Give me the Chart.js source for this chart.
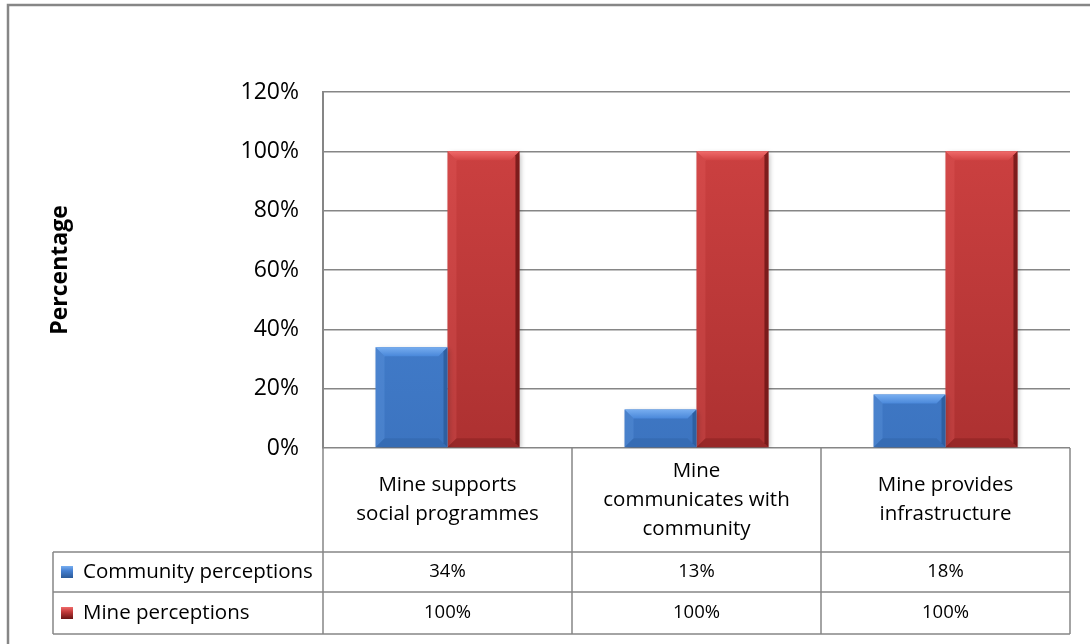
<!DOCTYPE html>
<html>
<head>
<meta charset="utf-8">
<script src="https://cdn.jsdelivr.net/npm/chart.js@4.4.1/dist/chart.umd.min.js"></script>
<style>
  html, body { margin: 0; padding: 0; background: #fff; }
  #wrap { position: relative; width: 1090px; height: 644px; }
</style>
</head>
<body>
<div id="wrap"><canvas id="chart"></canvas></div>
<script>
// data
const categories = [
    ['Mine supports', 'social programmes'],
    ['Mine', 'communicates with', 'community'],
    ['Mine provides', 'infrastructure']
];
const seriesNames = ['Community perceptions', 'Mine perceptions'];
const communityValues = [0.34, 0.13, 0.18];
const mineValues = [1.00, 1.00, 1.00];
const yTicks = [0, 0.2, 0.4, 0.6, 0.8, 1.0, 1.2];

const FONT = "'Open Sans', 'DejaVu Sans', sans-serif";
const LINE = '#868686';

// fill, light edge, dark edge per series
const palette = [
    { base: '#4580d2', top: '#4a88da', bottom: '#3c74c0', light: '#78aef0', dark: '#2b5a98' },
    { base: '#c23a3a', top: '#d14343', bottom: '#ad3131', light: '#f06a6a', dark: '#6a1414' }
];

const pct = v => Math.round(v * 100) + '%';

function barFill(idx) {
    return (ctx) => {
        const { chart } = ctx;
        const area = chart.chartArea;
        if (!area) return palette[idx].base;
        const g = chart.ctx.createLinearGradient(0, area.top, 0, area.bottom);
        g.addColorStop(0, palette[idx].top);
        g.addColorStop(1, palette[idx].bottom);
        return g;
    };
}

// soft shadow under the bars
const barShadow = {
    id: 'barShadow',
    beforeDatasetsDraw(chart) {
        const c = chart.ctx;
        c.save();
        c.shadowColor = 'rgba(0,0,0,0.28)';
        c.shadowBlur = 5;
        c.shadowOffsetX = 2;
        c.shadowOffsetY = 2;
    },
    afterDatasetsDraw(chart) {
        chart.ctx.restore();
    }
};

// bevelled edges on each bar
const barBevel = {
    id: 'barBevel',
    afterDatasetsDraw(chart) {
        const c = chart.ctx;
        chart.data.datasets.forEach((ds, di) => {
            const p = palette[di];
            chart.getDatasetMeta(di).data.forEach(bar => {
                const { x, y, base, width } = bar.getProps(['x', 'y', 'base', 'width'], true);
                const l = x - width / 2, r = x + width / 2, t = y, b = base;
                const e = Math.min(9, (b - t) / 3);
                c.save();
                // top
                const g = c.createLinearGradient(0, t, 0, t + e);
                g.addColorStop(0, p.light);
                g.addColorStop(1, p.top);
                c.fillStyle = g;
                c.beginPath();
                c.moveTo(l, t); c.lineTo(r, t); c.lineTo(r - e, t + e); c.lineTo(l + e, t + e);
                c.closePath(); c.fill();
                // left
                c.fillStyle = p.light;
                c.globalAlpha = 0.22;
                c.beginPath();
                c.moveTo(l, t); c.lineTo(l + e, t + e); c.lineTo(l + e, b - e); c.lineTo(l, b);
                c.closePath(); c.fill();
                // right
                c.fillStyle = p.dark;
                c.globalAlpha = 0.8;
                c.beginPath();
                c.moveTo(r, t); c.lineTo(r, b); c.lineTo(r - 4, b - 4); c.lineTo(r - 4, t + 4);
                c.closePath(); c.fill();
                // bottom
                c.globalAlpha = 0.3;
                c.beginPath();
                c.moveTo(l, b); c.lineTo(r, b); c.lineTo(r - e, b - e); c.lineTo(l + e, b - e);
                c.closePath(); c.fill();
                c.restore();
            });
        });
    }
};

// data table under the plot plus outer frame
const dataTable = {
    id: 'dataTable',
    afterDraw(chart) {
        const c = chart.ctx;
        const area = chart.chartArea;
        const xs = chart.scales.x;
        const n = categories.length;
        const edges = [area.left];
        for (let i = 0; i < n - 1; i++) {
            edges.push((xs.getPixelForValue(i) + xs.getPixelForValue(i + 1)) / 2);
        }
        edges.push(area.right);

        const headBottom = 552, rowMid = 592, tableBottom = 634, keyLeft = 53;

        c.save();
        // outer frame
        c.strokeStyle = LINE;
        c.lineWidth = 2.5;
        c.beginPath();
        c.moveTo(8, 700); c.lineTo(8, 5); c.lineTo(1200, 5);
        c.stroke();

        c.lineWidth = 1.5;
        c.beginPath();
        edges.forEach(ex => {
            c.moveTo(ex, area.bottom);
            c.lineTo(ex, tableBottom);
        });
        [headBottom, rowMid, tableBottom].forEach(yy => {
            c.moveTo(keyLeft, yy);
            c.lineTo(area.right, yy);
        });
        c.moveTo(keyLeft, headBottom);
        c.lineTo(keyLeft, tableBottom);
        c.stroke();

        const textFont = '20.5px ' + FONT;
        const numFont = '18.5px ' + FONT;

        c.fillStyle = '#000';
        c.textBaseline = 'middle';
        c.textAlign = 'center';
        c.font = textFont;
        const headMid = (area.bottom + headBottom) / 2;
        categories.forEach((lines, i) => {
            const cx = (edges[i] + edges[i + 1]) / 2;
            const lh = 29;
            const y0 = headMid - (lines.length - 1) * lh / 2;
            lines.forEach((s, k) => c.fillText(s, cx, y0 + k * lh));
        });

        const rows = [communityValues, mineValues];
        const rowMids = [(headBottom + rowMid) / 2, (rowMid + tableBottom) / 2];
        rows.forEach((vals, ri) => {
            const ym = rowMids[ri];
            // legend key
            const p = palette[ri];
            const g = c.createLinearGradient(0, ym - 6, 0, ym + 6);
            g.addColorStop(0, p.light);
            g.addColorStop(0.4, p.base);
            g.addColorStop(1, p.dark);
            c.fillStyle = g;
            c.fillRect(61, ym - 6, 12, 12);
            c.fillStyle = '#000';
            c.textAlign = 'left';
            c.font = textFont;
            c.fillText(seriesNames[ri], 83, ym);
            c.textAlign = 'center';
            c.font = numFont;
            vals.forEach((v, i) => c.fillText(pct(v), (edges[i] + edges[i + 1]) / 2, ym));
        });
        c.restore();
    }
};

new Chart(document.getElementById('chart'), {
    type: 'bar',
    data: {
        labels: categories,
        datasets: [
            { label: seriesNames[0], data: communityValues, backgroundColor: barFill(0) },
            { label: seriesNames[1], data: mineValues, backgroundColor: barFill(1) }
        ]
    },
    options: {
        responsive: true,
        maintainAspectRatio: false,
        animation: false,
        layout: { padding: { left: 8, right: 20, top: 92, bottom: 196 } },
        datasets: {
            bar: { categoryPercentage: 0.578, barPercentage: 1, borderWidth: 0 }
        },
        plugins: {
            legend: { display: false },
            tooltip: { enabled: false }
        },
        scales: {
            x: { display: false },
            y: {
                min: 0,
                max: 1.2,
                afterFit: (scale) => { scale.width = 315; },
                afterBuildTicks: (scale) => { scale.ticks = yTicks.map(v => ({ value: v })); },
                ticks: {
                    color: '#000',
                    padding: 24,
                    font: { family: FONT, size: 23 },
                    callback: v => pct(v)
                },
                grid: { color: LINE, lineWidth: 1.5, drawTicks: false },
                border: { color: LINE, width: 2 },
                title: {
                    display: true,
                    text: 'Percentage',
                    color: '#000',
                    font: { family: FONT, size: 23, weight: 'bold' },
                    padding: { top: 39, bottom: 0 }
                }
            }
        }
    },
    plugins: [barShadow, barBevel, dataTable]
});
</script>
</body>
</html>
